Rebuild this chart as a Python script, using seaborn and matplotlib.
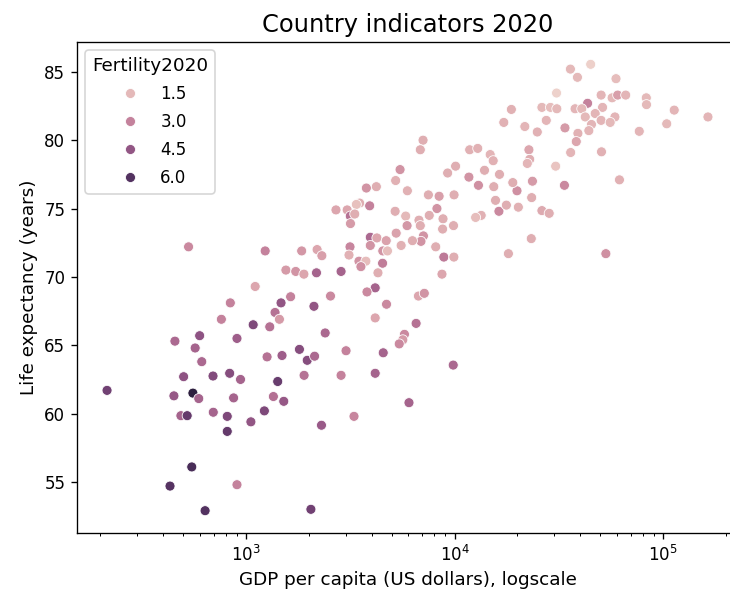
import numpy as np
import matplotlib.pyplot as plt
import seaborn as sns
import pandas as pd

# values (one entry per country)
gdp = [529, 1104, 839, 760, 1080, 598, 455, 903, 569, 612,
       501, 693, 833, 939, 215, 450, 555, 592, 870, 486,
       521, 695, 811, 1053, 811, 548, 431, 903, 635, 1350,
       1514, 1222, 2296, 3289, 6036, 2043,
       3937, 4235, 4695, 5240, 5535, 3147, 3937, 4520, 4760, 3112,
       1233, 1845, 2188, 2306, 3474, 3750, 3550, 4509, 4285, 1550,
       1728, 1891, 2173, 2851, 4156, 3796, 1633, 1469, 2537, 2113,
       4710, 1375, 1443, 1297, 4156, 2392, 5741, 5639, 5420, 1800,
       1485, 1259, 1962, 2128, 3012, 4542, 1895, 2851, 4156, 1416,
       5470, 5210, 5930, 4210, 3770, 3500, 3910, 2695, 3050, 3375,
       3157, 3316, 3163, 5180, 5820, 5910,
       35900, 30800, 26200, 28800, 30900, 27500, 33800, 18700, 17200, 21700,
       24900, 22700, 22900, 22300, 36000, 30500, 33600, 23600, 23400, 19900,
       19000, 16400, 15400, 15700, 16300, 17700, 20200, 26200, 28400, 23300,
       13400, 12600, 11800, 12900, 14800, 15300, 13900, 10100, 9250, 11700,
       13000, 7050, 6840, 7480, 8420, 9930, 8220, 7550, 8790, 9870,
       8750, 6740, 6840, 7080, 6890, 6270,
       8110, 8870, 9910, 8690, 18100, 6700, 7150, 6530, 9840,
       44900, 38800, 59400, 50400, 56900, 60500, 66100, 43400, 37800, 40700,
       51200, 47200, 42300, 50400, 58700, 55700, 45300, 44000, 83000, 83200,
       113000, 164000, 104000, 76800, 39000, 38300, 50600, 61700, 53100]

life = [72.2, 69.3, 68.1, 66.9, 66.5, 65.7, 65.3, 65.5, 64.8, 63.8,
        62.7, 62.75, 62.95, 62.5, 61.7, 61.3, 61.5, 61.1, 61.15, 59.85,
        59.85, 60.1, 59.8, 59.4, 58.7, 56.1, 54.7, 54.8, 52.9, 61.25,
        60.9, 60.2, 59.15, 59.8, 60.8, 53.0,
        72.9, 72.85, 72.65, 73.2, 72.3, 72.2, 72.3, 71.9, 71.9, 71.6,
        71.9, 71.9, 72.0, 71.55, 71.15, 71.15, 70.75, 71.0, 70.3, 70.5,
        70.4, 70.2, 70.3, 70.4, 69.2, 68.9, 68.55, 68.1, 68.6, 67.85,
        68.0, 67.4, 66.9, 66.35, 67.0, 65.9, 65.8, 65.4, 65.1, 64.7,
        64.25, 64.15, 63.9, 64.2, 64.6, 64.45, 62.8, 62.8, 62.95, 62.35,
        77.85, 77.05, 76.3, 76.6, 76.5, 75.4, 75.2, 74.9, 74.9, 75.3,
        74.45, 74.6, 73.9, 74.8, 74.45, 73.75,
        85.2, 83.45, 82.4, 82.4, 82.3, 81.45, 80.9, 82.25, 81.3, 81.0,
        80.6, 79.3, 78.6, 78.3, 79.1, 78.1, 76.7, 77.0, 75.8, 76.3,
        76.9, 77.5, 76.6, 75.6, 74.8, 75.25, 75.1, 74.85, 74.65, 72.8,
        74.5, 74.35, 79.3, 79.4, 78.95, 78.5, 77.8, 78.1, 77.6, 77.3,
        76.7, 80.0, 79.3, 76.0, 75.9, 76.0, 75.0, 74.5, 74.25, 73.75,
        73.5, 74.15, 73.75, 73.0, 72.6, 72.65,
        72.2, 71.45, 71.45, 70.2, 71.7, 68.6, 68.8, 66.6, 63.55,
        85.55, 84.6, 84.5, 83.3, 83.1, 83.3, 83.3, 82.7, 82.3, 82.3,
        82.4, 81.95, 81.7, 81.45, 81.7, 81.3, 81.15, 80.7, 83.1, 82.6,
        82.2, 81.7, 81.2, 80.65, 80.5, 79.9, 79.15, 77.1, 71.7]

fertility = [2.8, 2.0, 3.0, 3.0, 5.0, 4.6, 3.8, 4.2, 4.0, 3.8,
             4.6, 4.9, 4.8, 4.0, 5.3, 4.4, 6.9, 4.0, 4.0, 4.0,
             5.6, 4.0, 5.0, 4.5, 5.6, 6.2, 5.9, 3.0, 6.0, 3.6,
             4.4, 5.0, 4.3, 2.9, 4.0, 5.3,
             3.8, 2.0, 2.1, 2.1, 1.7, 2.9, 2.5, 2.5, 1.4, 1.7,
             3.0, 2.4, 2.0, 2.2, 2.5, 1.4, 2.6, 3.2, 1.8, 2.3,
             2.5, 2.0, 4.0, 4.0, 4.0, 2.8, 3.0, 4.5, 2.8, 4.5,
             2.8, 3.5, 2.3, 3.5, 2.0, 3.8, 2.8, 2.3, 2.8, 4.8,
             4.2, 3.5, 4.8, 3.8, 3.0, 4.0, 3.5, 3.0, 4.0, 5.5,
             2.5, 1.7, 1.7, 1.8, 2.5, 1.8, 3.0, 2.0, 2.0, 1.3,
             3.5, 1.8, 2.3, 1.8, 1.5, 2.4,
             1.5, 0.84, 1.5, 1.4, 1.5, 1.6, 2.3, 1.7, 1.7, 1.6,
             1.7, 2.0, 1.8, 1.6, 1.6, 1.2, 2.8, 2.3, 1.8, 2.6,
             1.8, 1.8, 1.8, 1.8, 2.8, 1.8, 1.7, 1.9, 1.8, 1.8,
             1.7, 1.4, 1.7, 1.7, 1.6, 1.7, 1.8, 1.8, 1.8, 2.5,
             2.6, 1.8, 1.8, 1.8, 2.2, 1.8, 2.5, 1.8, 1.8, 1.8,
             1.8, 1.8, 1.8, 2.5, 2.5, 1.8,
             1.8, 3.3, 1.8, 2.0, 1.8, 2.0, 2.5, 3.5, 3.8,
             0.87, 1.5, 1.4, 1.6, 1.5, 2.2, 1.6, 3.0, 1.6, 1.5,
             1.6, 1.6, 1.5, 1.6, 1.6, 1.5, 1.6, 1.6, 1.5, 1.5,
             1.6, 1.6, 1.5, 1.6, 1.7, 2.0, 1.7, 1.7, 2.6]

df = pd.DataFrame({'GDP2020': gdp, 'LifeExpectancy2020': life,
                   'Fertility2020': fertility})

fig = plt.figure(figsize=(730 / 120, 599 / 120), dpi=120)
# the reference is cut off on the right, so the axes run past the edge
ax = fig.add_axes([77 / 730, 66 / 599, 661 / 730, 491 / 599])

sns.scatterplot(data=df, x='GDP2020', y='LifeExpectancy2020',
                hue='Fertility2020', ax=ax)
ax.set_xscale('log')
sns.move_legend(ax, 'upper left', title_fontsize=11, labelspacing=0.6)

ax.set_title('Country indicators 2020', fontsize=14.5)
ax.set_xlabel('GDP per capita (US dollars), logscale', fontsize=11)
ax.set_ylabel('Life expectancy (years)', fontsize=11)

fig.savefig('out.png', dpi=120)
